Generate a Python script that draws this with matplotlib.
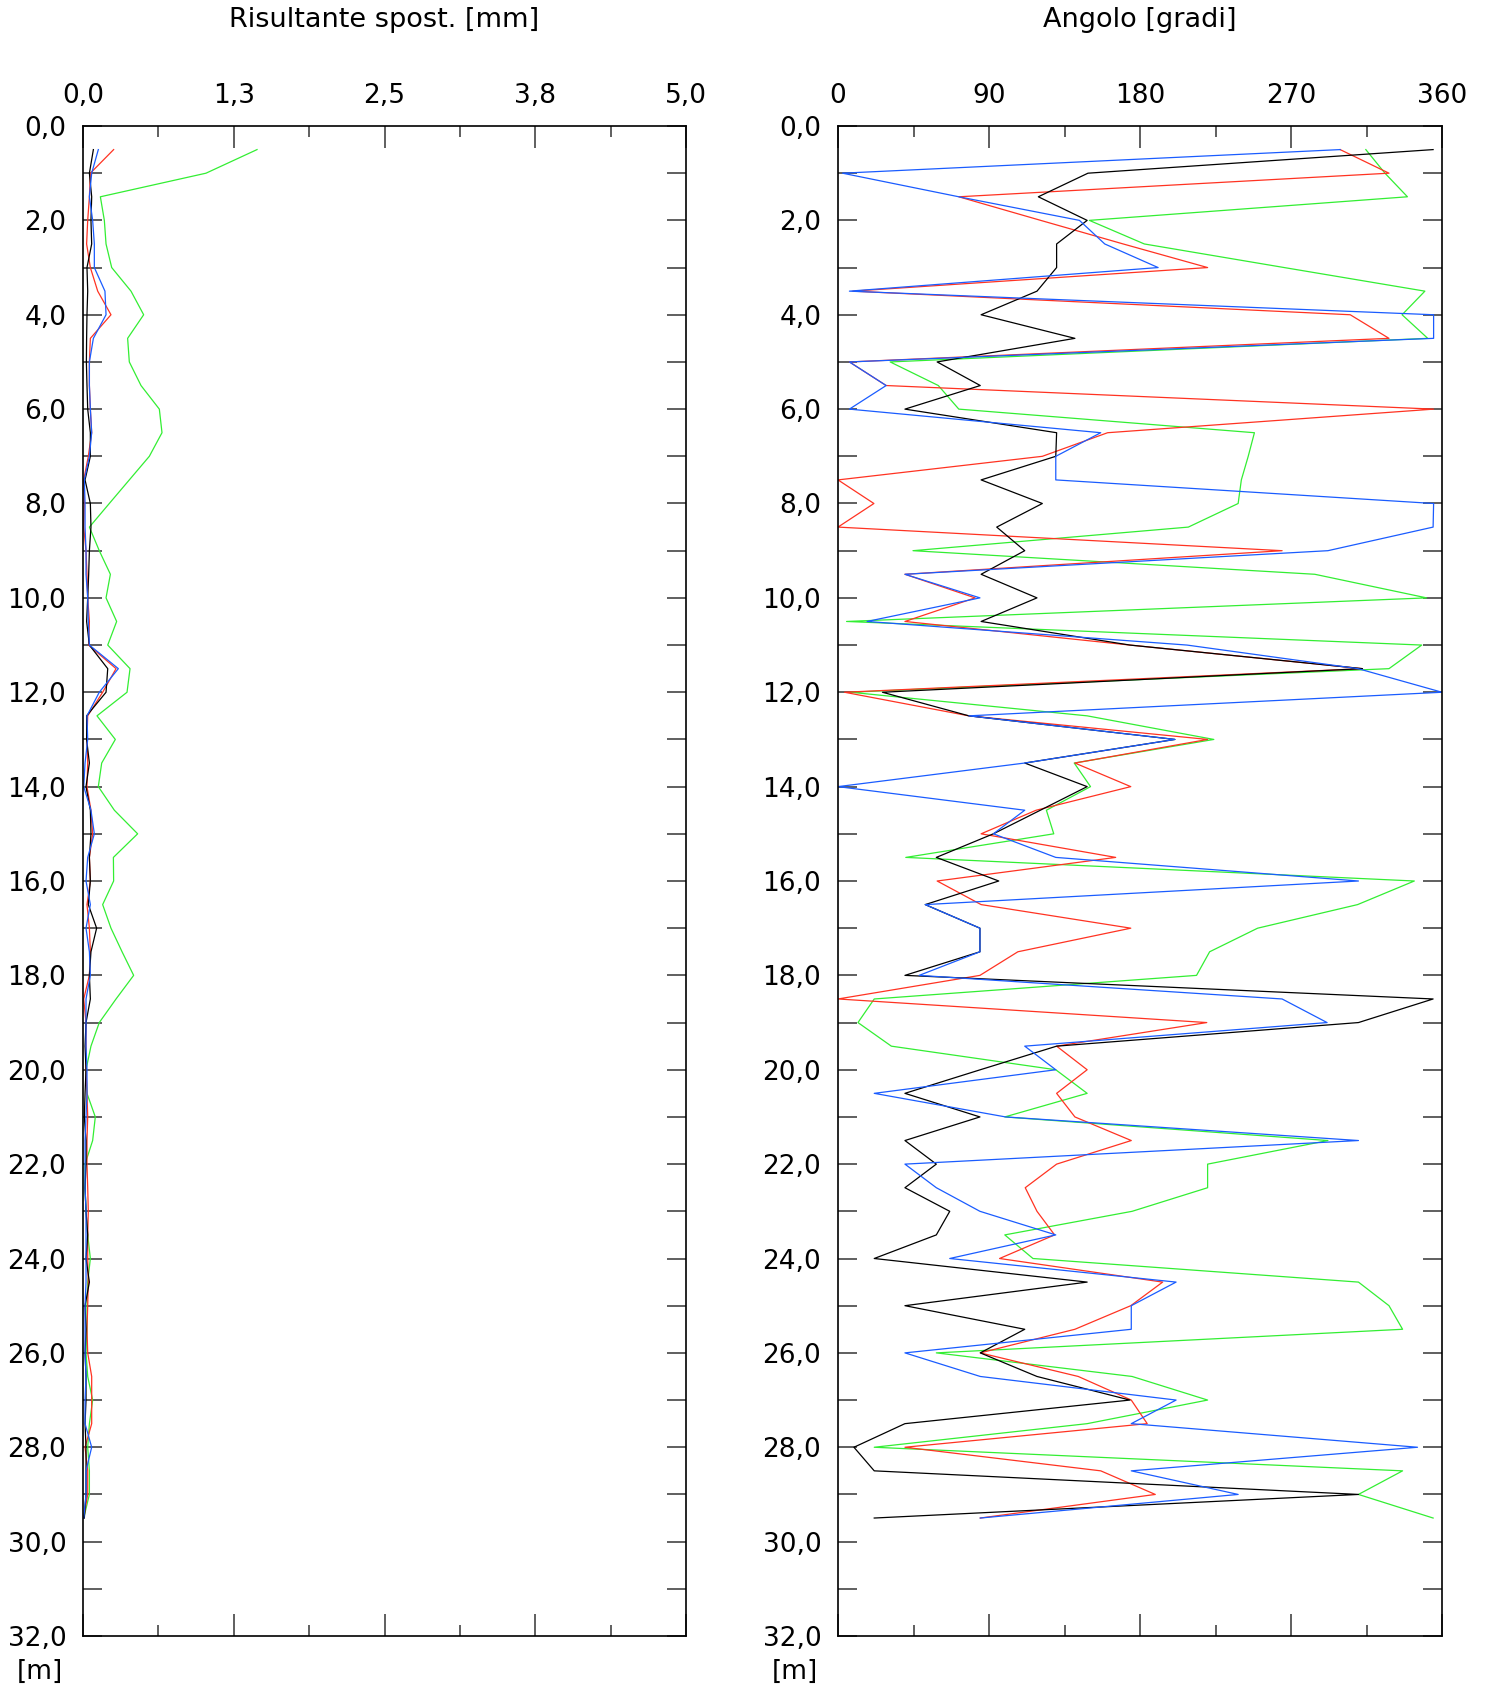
import matplotlib
matplotlib.use("Agg")
import matplotlib.pyplot as plt
import numpy as np

# depth of each reading [m]
depth = [0.5, 1.0, 1.5, 2.0, 2.5, 3.0, 3.5, 4.0, 4.5, 5.0,
         5.5, 6.0, 6.5, 7.0, 7.5, 8.0, 8.5, 9.0, 9.5, 10.0,
         10.5, 11.0, 11.5, 12.0, 12.5, 13.0, 13.5, 14.0, 14.5, 15.0,
         15.5, 16.0, 16.5, 17.0, 17.5, 18.0, 18.5, 19.0, 19.5, 20.0,
         20.5, 21.0, 21.5, 22.0, 22.5, 23.0, 23.5, 24.0, 24.5, 25.0,
         25.5, 26.0, 26.5, 27.0, 27.5, 28.0, 28.5, 29.0, 29.5]

# resultant displacement [mm]
spost_black = [0.086, 0.053, 0.072, 0.066, 0.072, 0.033, 0.039, 0.033, 0.030, 0.028,
               0.033, 0.039, 0.061, 0.061, 0.017, 0.061, 0.066, 0.053, 0.047, 0.039,
               0.030, 0.053, 0.205, 0.191, 0.030, 0.030, 0.053, 0.025, 0.061, 0.066,
               0.053, 0.061, 0.044, 0.113, 0.066, 0.053, 0.061, 0.025, 0.017, 0.025,
               0.017, 0.011, 0.025, 0.025, 0.017, 0.025, 0.039, 0.025, 0.053, 0.017,
               0.025, 0.017, 0.025, 0.025, 0.017, 0.025, 0.025, 0.025, 0.011]
spost_red = [0.254, 0.061, 0.053, 0.039, 0.030, 0.061, 0.122, 0.232, 0.061, 0.053,
             0.053, 0.061, 0.072, 0.044, 0.006, 0.011, 0.006, 0.025, 0.033, 0.039,
             0.053, 0.047, 0.274, 0.163, 0.039, 0.033, 0.039, 0.033, 0.066, 0.080,
             0.053, 0.061, 0.033, 0.053, 0.061, 0.053, 0.006, 0.025, 0.025, 0.025,
             0.033, 0.039, 0.033, 0.033, 0.039, 0.044, 0.039, 0.039, 0.044, 0.039,
             0.033, 0.039, 0.072, 0.072, 0.072, 0.017, 0.039, 0.039, 0.006]
spost_green = [1.443, 1.020, 0.144, 0.177, 0.191, 0.238, 0.398, 0.503, 0.370, 0.384,
               0.481, 0.633, 0.655, 0.550, 0.384, 0.218, 0.053, 0.135, 0.227, 0.191,
               0.279, 0.205, 0.390, 0.365, 0.116, 0.268, 0.155, 0.127, 0.260, 0.453,
               0.252, 0.254, 0.163, 0.232, 0.324, 0.420, 0.274, 0.135, 0.066, 0.025,
               0.033, 0.102, 0.080, 0.017, 0.017, 0.025, 0.039, 0.061, 0.039, 0.033,
               0.033, 0.025, 0.039, 0.080, 0.053, 0.039, 0.053, 0.053, 0.006]
spost_blue = [0.127, 0.072, 0.053, 0.080, 0.094, 0.094, 0.182, 0.191, 0.086, 0.053,
              0.053, 0.061, 0.072, 0.053, 0.011, 0.017, 0.017, 0.025, 0.025, 0.039,
              0.044, 0.053, 0.293, 0.135, 0.033, 0.039, 0.017, 0.006, 0.066, 0.094,
              0.039, 0.025, 0.061, 0.025, 0.053, 0.061, 0.025, 0.025, 0.025, 0.033,
              0.033, 0.025, 0.017, 0.017, 0.017, 0.025, 0.025, 0.025, 0.025, 0.017,
              0.017, 0.017, 0.025, 0.017, 0.017, 0.072, 0.025, 0.025, 0.006]

# angle [degrees]
ang_black = [354.7, 149.0, 119.4, 148.5, 130.3, 130.3, 118.6, 85.3, 141.2, 59.1,
             84.8, 39.9, 130.3, 129.8, 85.3, 121.8, 94.6, 111.3, 85.3, 118.6,
             85.3, 174.0, 312.6, 26.5, 78.0, 200.8, 111.3, 148.5, 120.6, 92.6,
             58.6, 95.8, 52.0, 84.6, 84.6, 39.9, 354.7, 310.2, 130.3, 84.8,
             39.9, 84.6, 39.9, 58.6, 39.9, 66.6, 58.6, 21.6, 148.5, 39.9,
             111.3, 84.8, 118.6, 174.0, 39.9, 9.5, 21.6, 310.2, 21.6]
ang_red = [299.3, 328.4, 72.0, 120.8, 170.0, 220.3, 8.8, 305.3, 328.4, 6.8,
           28.7, 355.0, 160.7, 121.8, 0.0, 21.4, 0.0, 264.7, 39.9, 81.7,
           39.9, 174.0, 312.6, 3.9, 78.0, 220.3, 141.2, 174.5, 118.1, 85.3,
           165.5, 59.1, 85.3, 174.5, 107.2, 84.6, 0.0, 219.8, 130.3, 148.5,
           130.3, 141.2, 174.8, 130.3, 111.6, 118.6, 129.1, 96.3, 193.5, 174.5,
           141.2, 84.8, 143.2, 174.8, 184.3, 39.9, 156.6, 189.1, 84.8]
ang_green = [314.6, 326.0, 339.4, 149.8, 182.6, 266.0, 349.8, 336.2, 351.5, 31.1,
             59.8, 72.0, 248.2, 244.5, 240.4, 238.5, 208.8, 44.7, 284.2, 350.8,
             5.1, 347.9, 328.4, 7.5, 148.5, 224.0, 140.8, 150.5, 124.2, 128.6,
             40.4, 343.5, 309.7, 250.1, 221.5, 213.7, 21.6, 11.9, 31.8, 129.8,
             148.5, 99.4, 292.0, 220.3, 220.3, 175.3, 99.4, 116.2, 310.2, 328.4,
             336.5, 58.6, 175.3, 220.3, 148.5, 21.6, 336.5, 310.2, 354.7]
ang_blue = [299.3, 2.7, 72.0, 143.9, 159.0, 190.8, 6.8, 355.0, 355.0, 6.8,
            28.7, 6.8, 156.6, 129.8, 129.8, 355.0, 354.7, 292.0, 39.9, 84.6,
            17.3, 208.0, 310.0, 360.0, 78.0, 200.8, 111.3, 0.0, 111.3, 92.6,
            129.8, 310.2, 52.0, 84.6, 84.6, 48.4, 264.7, 291.5, 111.3, 129.8,
            21.6, 99.9, 310.2, 39.9, 58.6, 84.6, 129.8, 66.6, 201.5, 174.8,
            174.8, 39.9, 84.8, 201.5, 174.8, 345.4, 174.8, 238.5, 84.8]

x_ticks_l = [0, 1.25, 2.5, 3.75, 5.0]
x_labels_l = ["0,0", "1,3", "2,5", "3,8", "5,0"]
x_ticks_r = [0, 90, 180, 270, 360]
x_labels_r = ["0", "90", "180", "270", "360"]
y_ticks = list(range(0, 33, 2))
y_labels = ["%d,0" % v for v in y_ticks]

c_black = "#000000"
c_red = "#ff3322"
c_green = "#33ee33"
c_blue = "#1a5cff"

W, H = 1491, 1692
fig = plt.figure(figsize=(W / 100, H / 100), dpi=100)
plt.rcParams['font.family'] = ['DejaVu Sans']

ax1 = fig.add_axes([83 / W, 1 - 1636 / H, 603 / W, 1510 / H])
ax2 = fig.add_axes([838 / W, 1 - 1636 / H, 604 / W, 1510 / H])

lw = 0.9
ax1.plot(spost_green, depth, color=c_green, lw=lw)
ax1.plot(spost_red, depth, color=c_red, lw=lw)
ax1.plot(spost_black, depth, color=c_black, lw=lw)
ax1.plot(spost_blue, depth, color=c_blue, lw=lw)

ax2.plot(ang_green, depth, color=c_green, lw=lw)
ax2.plot(ang_red, depth, color=c_red, lw=lw)
ax2.plot(ang_black, depth, color=c_black, lw=lw)
ax2.plot(ang_blue, depth, color=c_blue, lw=lw)

fs = 19
for ax, xt, xl, xmax in [(ax1, x_ticks_l, x_labels_l, 5.0), (ax2, x_ticks_r, x_labels_r, 360)]:
    ax.set_xlim(0, xmax)
    ax.set_ylim(32, 0)
    ax.set_xticks(xt)
    ax.set_xticklabels(xl)
    ax.set_xticks([(xt[i] + xt[i + 1]) / 2 for i in range(len(xt) - 1)], minor=True)
    ax.set_yticks(y_ticks)
    ax.set_yticklabels(y_labels)
    ax.set_yticks(list(range(1, 32, 2)), minor=True)
    ax.tick_params(axis='x', which='both', direction='in', top=True, bottom=True,
                   labeltop=True, labelbottom=False, color='#444444', width=1.2,
                   labelsize=fs, pad=12)
    ax.tick_params(axis='x', which='major', length=16)
    ax.tick_params(axis='x', which='minor', length=8)
    ax.tick_params(axis='y', which='both', direction='in', left=True, right=True,
                   length=14, color='#444444', width=1.2, labelsize=fs, pad=12)
    for s in ax.spines.values():
        s.set_linewidth(1.2)
    ax.text(-0.072, -0.024, "[m]", transform=ax.transAxes, fontsize=fs,
            ha='center', va='center')

fig.text((83 + 686) / 2 / W, 1 - 20 / H, "Risultante spost. [mm]", ha='center',
         va='center', fontsize=19.5)
fig.text((838 + 1442) / 2 / W, 1 - 20 / H, "Angolo [gradi]", ha='center',
         va='center', fontsize=19.5)

fig.savefig("out.png", dpi=100)
